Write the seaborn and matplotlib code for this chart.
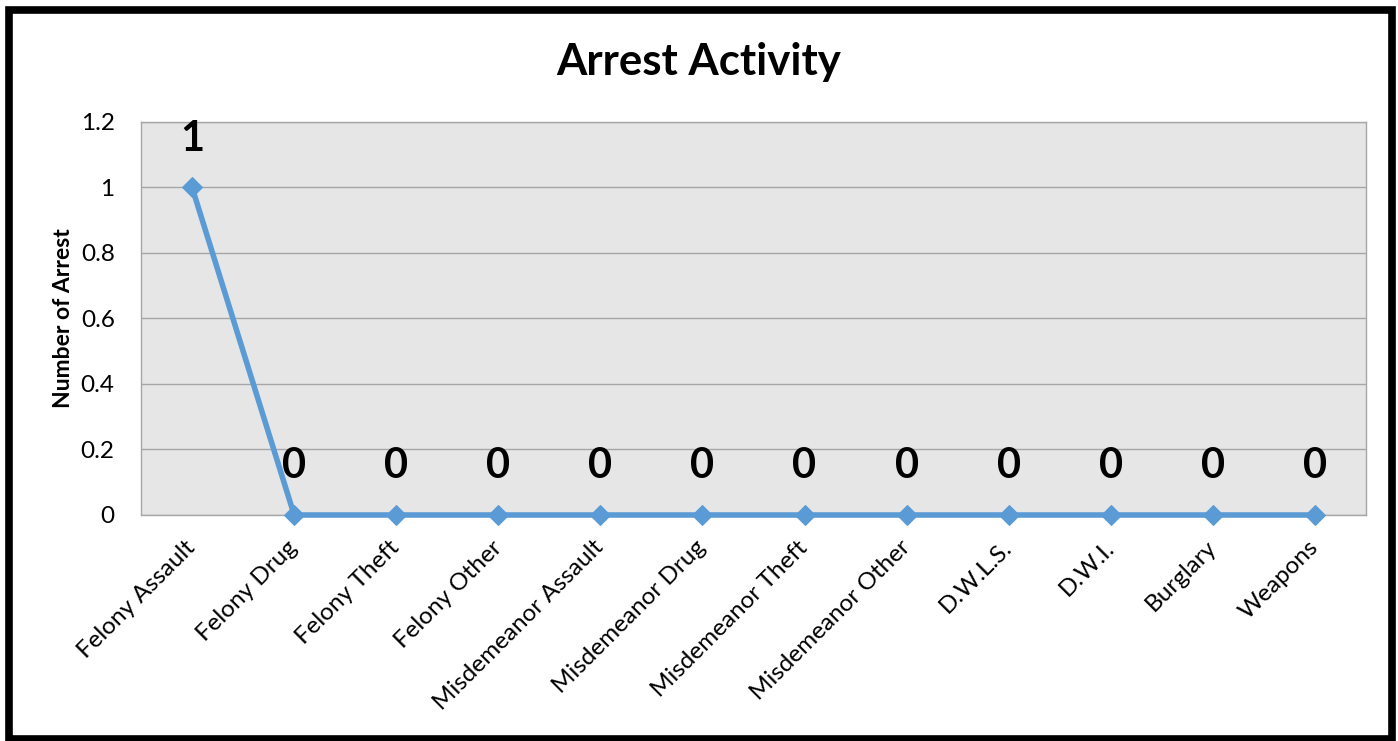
import matplotlib
matplotlib.use("Agg")
import matplotlib.pyplot as plt
import seaborn as sns
import pandas as pd
from matplotlib.patches import Rectangle

# donnees
categories = ["Felony Assault", "Felony Drug", "Felony Theft", "Felony Other",
              "Misdemeanor Assault", "Misdemeanor Drug", "Misdemeanor Theft",
              "Misdemeanor Other", "D.W.L.S.", "D.W.I.", "Burglary", "Weapons"]
arrests = [1, 0, 0, 0, 0, 0, 0, 0, 0, 0, 0, 0]
y_ticks = [0, 0.2, 0.4, 0.6, 0.8, 1, 1.2]
y_tick_labels = ["0", "0.2", "0.4", "0.6", "0.8", "1", "1.2"]

data = pd.DataFrame({"pos": range(len(categories)), "Category": categories, "Arrests": arrests})

sns.set_style("whitegrid", {"axes.facecolor": "#E6E6E6", "grid.color": "#A6A6A6",
                            "axes.edgecolor": "#A6A6A6", "text.color": "black",
                            "xtick.color": "black", "ytick.color": "black",
                            "axes.labelcolor": "black"})
plt.rcParams["font.family"] = ["Lato", "DejaVu Sans"]

fig = plt.figure(figsize=(13.98, 7.41), dpi=100)
ax = fig.add_axes([0.1009, 0.305, 0.9771 - 0.1009, 0.8354 - 0.305])

blue = "#5B9BD5"
sns.lineplot(data=data, x="pos", y="Arrests", ax=ax, color=blue, linewidth=4,
             marker="D", markersize=10, markeredgecolor=blue, clip_on=False, zorder=5)

ax.set_xlim(-0.5, len(categories) - 0.5)
ax.set_ylim(0, 1.2)
ax.set_yticks(y_ticks)
ax.set_yticklabels(y_tick_labels, fontsize=17.5)
ax.set_xticks(range(len(categories)))
ax.set_xticklabels(categories, rotation=45, ha="right", va="center",
                   rotation_mode="anchor", fontsize=17.5)
ax.grid(axis="x", visible=False)
ax.grid(axis="y", linewidth=1)
ax.tick_params(length=0)
ax.tick_params(axis="y", pad=19)
ax.tick_params(axis="x", pad=21)
for sp in ax.spines.values():
    sp.set_linewidth(1)
    sp.set_color("#A6A6A6")
ax.set_xlabel("")
ax.set_ylabel("Number of Arrest", fontsize=16.5, fontweight="bold", labelpad=5)

# etiquettes de valeurs
for i, v in enumerate(arrests):
    ax.annotate(str(v), (i, v), xytext=(0, 35), textcoords="offset points",
                ha="center", va="center", fontsize=30, fontweight="bold", color="black")

fig.text(0.5, 0.916, "Arrest Activity", ha="center", va="center",
         fontsize=31.5, fontweight="bold", color="black")

# cadre noir autour de la figure
fig.patches.append(Rectangle((8.5 / 1398, 2 / 741), (1392 - 8.5) / 1398, (731 - 2) / 741,
                             transform=fig.transFigure, fill=False, edgecolor="black",
                             linewidth=5.5, zorder=10))

fig.savefig("out.png", dpi=100, facecolor="white")
plt.close()
